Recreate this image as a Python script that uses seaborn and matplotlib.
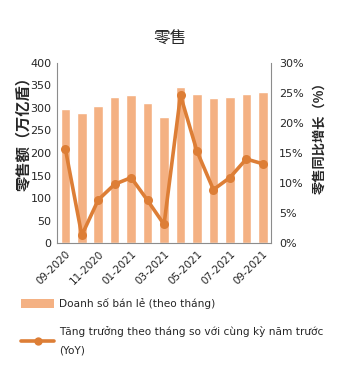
import matplotlib
matplotlib.use("Agg")
import matplotlib.pyplot as plt
import seaborn as sns
import pandas as pd
from matplotlib.patches import Patch
from matplotlib.lines import Line2D
from matplotlib.ticker import PercentFormatter

months = ["09-2020", "10-2020", "11-2020", "12-2020", "01-2021", "02-2021", "03-2021",
          "04-2021", "05-2021", "06-2021", "07-2021", "08-2021", "09-2021"]
sales = [298, 289, 304, 324, 329, 310, 280, 347, 331, 322, 324, 331, 336]
yoy = [15.7, 1.3, 7.2, 9.8, 10.9, 7.1, 3.1, 24.6, 15.3, 8.9, 10.9, 14.0, 13.2]

title = "零售"
left_label = "零售额（万亿盾）"
right_label = "零售同比增长（%）"
bar_legend = "Doanh số bán lẻ (theo tháng)"
line_legend = "Tăng trưởng theo tháng so với cùng kỳ năm trước\n(YoY)"

df = pd.DataFrame({"month": months, "sales": sales, "yoy": yoy})

sns.set_style("white")
plt.rcParams["font.family"] = ["DejaVu Sans", "Noto Sans CJK SC"]

bar_color = "#F4B183"
line_color = "#DD7E36"
spine_color = "#8C8C8C"

fig = plt.figure(figsize=(3.4, 3.7), dpi=100)
ax = fig.add_axes([0.168, 0.343, 0.629, 0.487])

sns.barplot(data=df, x="month", y="sales", order=months, color=bar_color,
            width=0.58, ax=ax, saturation=1)
ax.set_ylim(0, 400)
ax.set_yticks(range(0, 401, 50))
ax.set_xlim(-0.5, len(months) - 0.5)

ax2 = ax.twinx()
sns.lineplot(data=df, x="month", y="yoy", color=line_color, linewidth=2.6,
             marker="o", markersize=6.5, markeredgewidth=0, ax=ax2, sort=False)
ax2.set_ylim(0, 30)
ax2.set_yticks(range(0, 31, 5))
ax2.yaxis.set_major_formatter(PercentFormatter(decimals=0))
ax2.set_xlim(-0.5, len(months) - 0.5)

label_pos = list(range(0, len(months), 2))
ax.set_xticks(label_pos)
ax.set_xticklabels([months[i] for i in label_pos], rotation=45, ha="right",
                   rotation_mode="anchor", fontsize=7.5)
ax.set_xticks([i - 0.5 for i in range(0, len(months), 2)], minor=True)
ax.tick_params(axis="x", which="major", length=0, pad=4)
ax.tick_params(axis="x", which="minor", length=4, color=spine_color, width=0.8)
ax.tick_params(axis="y", length=0, labelsize=8, pad=4)
ax2.tick_params(axis="y", length=0, labelsize=8, pad=6)

for a in (ax, ax2):
    a.spines["top"].set_visible(False)
    for s in ("left", "right", "bottom"):
        a.spines[s].set_color(spine_color)
        a.spines[s].set_linewidth(0.8)
ax.spines["right"].set_visible(False)
ax2.spines["left"].set_visible(False)
ax2.spines["bottom"].set_visible(False)

ax.set_xlabel("")
ax.set_ylabel("")
ax2.set_ylabel("")
fig.text(0.068, 0.649, left_label, rotation=90, ha="center", va="center",
         family=["Noto Sans CJK SC"], fontsize=11, fontweight="bold")
fig.text(0.941, 0.635, right_label, rotation=90, ha="center", va="center",
         family=["Noto Sans CJK SC"], fontsize=9.5, fontweight="bold")

fig.text(0.5, 0.897, title, ha="center", va="center", fontsize=12,
         family=["Noto Sans CJK SC"])

handles = [Patch(facecolor=bar_color, edgecolor="none"),
           Line2D([0], [0], color=line_color, linewidth=2.6, marker="o",
                  markersize=6, markeredgewidth=0)]
leg = fig.legend(handles, [bar_legend, line_legend], loc="upper left",
                 bbox_to_anchor=(0.05, 0.205), frameon=False, fontsize=7.6,
                 handlelength=3.1, handleheight=1.0, labelspacing=1.6,
                 handletextpad=0.5, borderaxespad=0)
leg.get_texts()[1].set_linespacing(2.0)

fig.savefig("out.png", dpi=100)
